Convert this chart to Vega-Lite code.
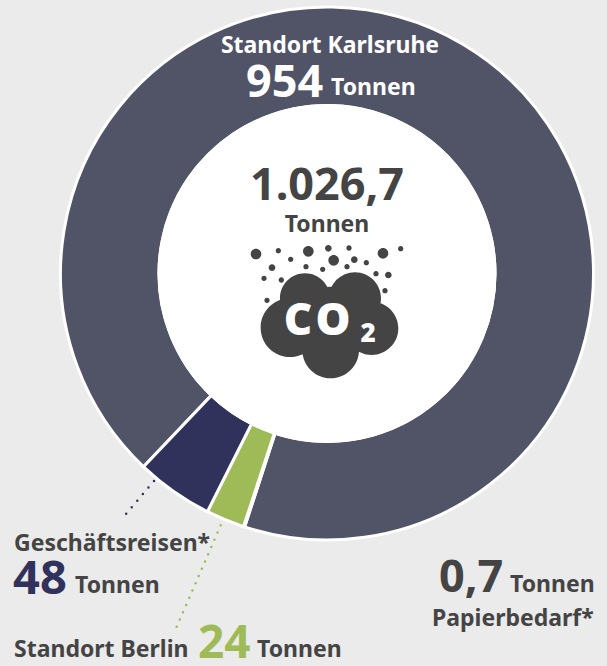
{"$schema":"https://vega.github.io/schema/vega-lite/v6.json","width":534,"height":534,"autosize":"none","padding":{"left":60,"top":6.5,"right":13,"bottom":125.5},"background":"#ebebeb","config":{"view":{"stroke":null},"text":{"font":"Noto Sans","fontWeight":"bold","color":"#444444","align":"left","baseline":"alphabetic"}},"layer":[
{"data":{"values":[{"part":"Standort Karlsruhe","tonnen":954,"rank":1},{"part":"Papierbedarf","tonnen":0.7,"rank":2},{"part":"Standort Berlin","tonnen":24,"rank":3},{"part":"Geschäftsreisen","tonnen":48,"rank":4}]},"mark":{"type":"arc","radius":266.5,"radius2":168,"stroke":"white","strokeWidth":3},"encoding":{"theta":{"field":"tonnen","type":"quantitative","stack":true,"scale":{"range":[3.9008,10.184]}},"order":{"field":"rank","type":"ordinal"},"color":{"field":"part","type":"nominal","legend":null,"scale":{"domain":["Standort Karlsruhe","Papierbedarf","Standort Berlin","Geschäftsreisen"],"range":["#515367","#515367","#9fbb57","#31325c"]}}}},
{"data":{"values":[{"part":"Mitte"}]},"mark":{"type":"arc","radius":0,"radius2":169.5,"fill":"white"},"encoding":{}},
{"data":{"values":[{"part":"Geschäftsreisen"}]},"mark":{"type":"rule","stroke":"#31325c","strokeWidth":2.5,"strokeDash":[0,8.6],"strokeCap":"round"},"encoding":{"x":{"datum":154,"type":"quantitative","scale":{"domain":[60,594],"nice":false,"zero":false},"axis":null},"y":{"datum":481,"type":"quantitative","scale":{"domain":[6.5,540.5],"reverse":true,"nice":false,"zero":false},"axis":null},"x2":{"datum":126},"y2":{"datum":514}}},
{"data":{"values":[{"part":"Standort Berlin"}]},"mark":{"type":"rule","stroke":"#9fbb57","strokeWidth":2.5,"strokeDash":[0,7.9],"strokeCap":"round"},"encoding":{"x":{"datum":220.7,"type":"quantitative"},"y":{"datum":525.3,"type":"quantitative"},"x2":{"datum":175},"y2":{"datum":630.7}}},
{"data":{"values":[{"icon":"CO2"}]},"mark":{"type":"point","filled":true,"fill":"#444444","opacity":1,"size":40000,"shape":"M-0.7933 -0.5933a0.0533 0.0533 0 1 0 0.1066 0a0.0533 0.0533 0 1 0 -0.1066 0ZM-0.5434 -0.6267a0.0267 0.0267 0 1 0 0.0534 0a0.0267 0.0267 0 1 0 -0.0534 0ZM-0.42 -0.54a0.0267 0.0267 0 1 0 0.0534 0a0.0267 0.0267 0 1 0 -0.0534 0ZM-0.27 -0.62a0.0533 0.0533 0 1 0 0.1066 0a0.0533 0.0533 0 1 0 -0.1066 0ZM-0.05 -0.65a0.0333 0.0333 0 1 0 0.0666 0a0.0333 0.0333 0 1 0 -0.0666 0ZM0.1633 -0.6533a0.0267 0.0267 0 1 0 0.0534 0a0.0267 0.0267 0 1 0 -0.0534 0ZM-0.0166 -0.53a0.0533 0.0533 0 1 0 0.1066 0a0.0533 0.0533 0 1 0 -0.1066 0ZM0.21 -0.5367a0.0333 0.0333 0 1 0 0.0666 0a0.0333 0.0333 0 1 0 -0.0666 0ZM0.3366 -0.5067a0.0267 0.0267 0 1 0 0.0534 0a0.0267 0.0267 0 1 0 -0.0534 0ZM0.4767 -0.6a0.0533 0.0533 0 1 0 0.1066 0a0.0533 0.0533 0 1 0 -0.1066 0ZM0.68 -0.6467a0.0267 0.0267 0 1 0 0.0534 0a0.0267 0.0267 0 1 0 -0.0534 0ZM-0.6133 -0.4567a0.0333 0.0333 0 1 0 0.0666 0a0.0333 0.0333 0 1 0 -0.0666 0ZM-0.2667 -0.4667a0.0267 0.0267 0 1 0 0.0534 0a0.0267 0.0267 0 1 0 -0.0534 0ZM-0.1 -0.44a0.0267 0.0267 0 1 0 0.0534 0a0.0267 0.0267 0 1 0 -0.0534 0ZM0.1433 -0.4667a0.0267 0.0267 0 1 0 0.0534 0a0.0267 0.0267 0 1 0 -0.0534 0ZM0.4333 -0.3967a0.0267 0.0267 0 1 0 0.0534 0a0.0267 0.0267 0 1 0 -0.0534 0ZM0.55 -0.3833a0.0333 0.0333 0 1 0 0.0666 0a0.0333 0.0333 0 1 0 -0.0666 0ZM-0.6867 -0.35a0.0267 0.0267 0 1 0 0.0534 0a0.0267 0.0267 0 1 0 -0.0534 0ZM-0.5134 -0.3333a0.0267 0.0267 0 1 0 0.0534 0a0.0267 0.0267 0 1 0 -0.0534 0ZM0.5233 -0.2267a0.0267 0.0267 0 1 0 0.0534 0a0.0267 0.0267 0 1 0 -0.0534 0ZM-0.6567 -0.13a0.0267 0.0267 0 1 0 0.0534 0a0.0267 0.0267 0 1 0 -0.0534 0ZM-0.6933 0.1433a0.2933 0.2933 0 1 0 0.5866 0a0.2933 0.2933 0 1 0 -0.5866 0ZM0.15 0.15a0.2667 0.2667 0 1 0 0.5334 0a0.2667 0.2667 0 1 0 -0.5334 0ZM-0.2766 0.3667a0.2833 0.2833 0 1 0 0.5666 0a0.2833 0.2833 0 1 0 -0.5666 0ZM-0.5 -0.15a0.25 0.25 0 1 0 0.5 0a0.25 0.25 0 1 0 -0.5 0ZM-0.01 -0.15a0.26 0.26 0 1 0 0.52 0a0.26 0.26 0 1 0 -0.52 0ZM-0.3333 0.0667a0.3333 0.3333 0 1 0 0.6666 0a0.3333 0.3333 0 1 0 -0.6666 0Z"},"encoding":{"x":{"datum":330,"type":"quantitative"},"y":{"datum":313.3,"type":"quantitative"}}},
{"data":{"values":[{"t":"Standort Karlsruhe"}]},"mark":{"type":"text","fontSize":23,"color":"white","align":"center"},"encoding":{"text":{"field":"t"},"x":{"datum":330,"type":"quantitative"},"y":{"datum":53,"type":"quantitative"}}},
{"data":{"values":[{"t":"954"}]},"mark":{"type":"text","fontSize":45,"color":"white"},"encoding":{"text":{"field":"t"},"x":{"datum":246,"type":"quantitative"},"y":{"datum":96.5,"type":"quantitative"}}},
{"data":{"values":[{"t":"Tonnen"}]},"mark":{"type":"text","fontSize":23,"color":"white"},"encoding":{"text":{"field":"t"},"x":{"datum":331,"type":"quantitative"},"y":{"datum":95,"type":"quantitative"}}},
{"data":{"values":[{"t":"1.026,7"}]},"mark":{"type":"text","fontSize":45,"align":"center"},"encoding":{"text":{"field":"t"},"x":{"datum":327,"type":"quantitative"},"y":{"datum":200,"type":"quantitative"}}},
{"data":{"values":[{"t":"Tonnen"}]},"mark":{"type":"text","fontSize":23,"align":"center"},"encoding":{"text":{"field":"t"},"x":{"datum":327,"type":"quantitative"},"y":{"datum":232,"type":"quantitative"}}},
{"data":{"values":[{"t":"C"}]},"mark":{"type":"text","fontSize":44,"fontWeight":900,"color":"white","align":"center"},"encoding":{"text":{"field":"t"},"x":{"datum":298,"type":"quantitative"},"y":{"datum":335,"type":"quantitative"}}},
{"data":{"values":[{"t":"O"}]},"mark":{"type":"text","fontSize":44,"fontWeight":900,"color":"white","align":"center"},"encoding":{"text":{"field":"t"},"x":{"datum":333,"type":"quantitative"},"y":{"datum":335,"type":"quantitative"}}},
{"data":{"values":[{"t":"2"}]},"mark":{"type":"text","fontSize":26,"fontWeight":900,"color":"white","align":"center"},"encoding":{"text":{"field":"t"},"x":{"datum":368,"type":"quantitative"},"y":{"datum":342,"type":"quantitative"}}},
{"data":{"values":[{"t":"Geschäftsreisen*"}]},"mark":{"type":"text","fontSize":23},"encoding":{"text":{"field":"t"},"x":{"datum":14,"type":"quantitative"},"y":{"datum":551,"type":"quantitative"}}},
{"data":{"values":[{"t":"48"}]},"mark":{"type":"text","fontSize":47,"color":"#31325c"},"encoding":{"text":{"field":"t"},"x":{"datum":13,"type":"quantitative"},"y":{"datum":594,"type":"quantitative"}}},
{"data":{"values":[{"t":"Tonnen"}]},"mark":{"type":"text","fontSize":23},"encoding":{"text":{"field":"t"},"x":{"datum":75,"type":"quantitative"},"y":{"datum":593,"type":"quantitative"}}},
{"data":{"values":[{"t":"Standort Berlin"}]},"mark":{"type":"text","fontSize":23},"encoding":{"text":{"field":"t"},"x":{"datum":14,"type":"quantitative"},"y":{"datum":657,"type":"quantitative"}}},
{"data":{"values":[{"t":"24"}]},"mark":{"type":"text","fontSize":46,"color":"#9fbb57"},"encoding":{"text":{"field":"t"},"x":{"datum":198,"type":"quantitative"},"y":{"datum":658,"type":"quantitative"}}},
{"data":{"values":[{"t":"Tonnen"}]},"mark":{"type":"text","fontSize":23},"encoding":{"text":{"field":"t"},"x":{"datum":257,"type":"quantitative"},"y":{"datum":657,"type":"quantitative"}}},
{"data":{"values":[{"t":"0,7"}]},"mark":{"type":"text","fontSize":45},"encoding":{"text":{"field":"t"},"x":{"datum":439,"type":"quantitative"},"y":{"datum":592,"type":"quantitative"}}},
{"data":{"values":[{"t":"Tonnen"}]},"mark":{"type":"text","fontSize":23},"encoding":{"text":{"field":"t"},"x":{"datum":510,"type":"quantitative"},"y":{"datum":592,"type":"quantitative"}}},
{"data":{"values":[{"t":"Papierbedarf*"}]},"mark":{"type":"text","fontSize":23},"encoding":{"text":{"field":"t"},"x":{"datum":432,"type":"quantitative"},"y":{"datum":626,"type":"quantitative"}}}
]}
